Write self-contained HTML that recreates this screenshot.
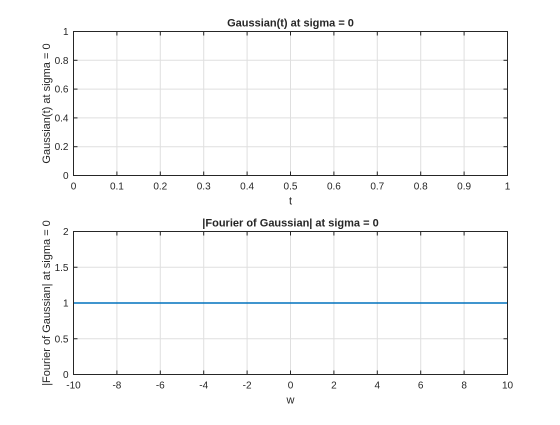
<!DOCTYPE html>
<html><head><meta charset="utf-8"><style>
html,body{margin:0;padding:0;background:#fff;}
svg text{font-family:"Liberation Sans",Arial,sans-serif;fill:#262626;}
</style></head><body>
<svg id="chart" width="560" height="420" xmlns="http://www.w3.org/2000/svg"></svg>
<script>
const topXTicks=[0,0.1,0.2,0.3,0.4,0.5,0.6,0.7,0.8,0.9,1];
const topXLabels=["0","0.1","0.2","0.3","0.4","0.5","0.6","0.7","0.8","0.9","1"];
const topYTicks=[0,0.2,0.4,0.6,0.8,1];
const topYLabels=["0","0.2","0.4","0.6","0.8","1"];
const topSeriesX=[];
const topSeriesY=[];
const botXTicks=[-10,-8,-6,-4,-2,0,2,4,6,8,10];
const botXLabels=["-10","-8","-6","-4","-2","0","2","4","6","8","10"];
const botYTicks=[0,0.5,1,1.5,2];
const botYLabels=["0","0.5","1","1.5","2"];
const botSeriesX=[-10,10];
const botSeriesY=[1,1];

const svg=document.getElementById('chart');
const NS='http://www.w3.org/2000/svg';
function mk(tag,attrs,parent){const e=document.createElementNS(NS,tag);for(const k in attrs)e.setAttribute(k,attrs[k]);(parent||svg).appendChild(e);return e;}

function drawAxes(cfg){
  const g=mk('g',{});
  
  
  const L=73.5,R=507.5,T=cfg.top,B=cfg.bottom;
  const sx=v=>L+(v-cfg.xmin)/(cfg.xmax-cfg.xmin)*(R-L);
  const sy=v=>B-(v-cfg.ymin)/(cfg.ymax-cfg.ymin)*(B-T);
  mk('rect',{x:L,y:T,width:R-L,height:B-T,fill:'#fff'},g);
  cfg.xt.forEach((v,i)=>{
    const x=sx(v);
    const gl=mk('line',{x1:x,x2:x,y1:T,y2:B,stroke:'#dfdfdf','stroke-width':1},g);
    
    
    mk('line',{x1:x,x2:x,y1:B,y2:B-4,stroke:'#262626'},g);
    mk('line',{x1:x,x2:x,y1:T,y2:T+4,stroke:'#262626'},g);
    const t=mk('text',{x:x,y:B+14,'font-size':10,'text-anchor':'middle'},g);
    t.textContent=cfg.xl[i];
    
    
  });
  cfg.yt.forEach((v,i)=>{
    const y=sy(v);
    const gl=mk('line',{x1:L,x2:R,y1:y,y2:y,stroke:'#dfdfdf','stroke-width':1},g);
    
    
    mk('line',{x1:L,x2:L+4,y1:y,y2:y,stroke:'#262626'},g);
    mk('line',{x1:R,x2:R-4,y1:y,y2:y,stroke:'#262626'},g);
    const t=mk('text',{x:L-5,y:y+3.5,'font-size':10,'text-anchor':'end'},g);
    t.textContent=cfg.yl[i];
    
    
  });
  if(cfg.sx.length>1){
    const pts=cfg.sx.map((v,i)=>sx(v)+','+sy(cfg.sy[i])).join(' ');
    const pl=mk('polyline',{points:pts,fill:'none',stroke:'#0072bd','stroke-width':1.5},g);
    
    
  }
  const box=mk('rect',{x:L,y:T,width:R-L,height:B-T,fill:'none',stroke:'#262626','stroke-width':1},g);
  
  
  const ti=mk('text',{x:(L+R)/2,y:T-5,'font-size':11,'font-weight':'bold','text-anchor':'middle'},g);
  ti.textContent=cfg.title;
  
  
  const xl=mk('text',{x:(L+R)/2,y:B+29,'font-size':11,'text-anchor':'middle'},g);
  xl.textContent=cfg.xlabel;
  
  
  const yx=50,yy=(T+B)/2;
  const yl=mk('text',{x:yx,y:yy,'font-size':11,'text-anchor':'middle',transform:'rotate(-90 '+yx+' '+yy+')'},g);
  yl.textContent=cfg.ylabel;
  
  
}
drawAxes({name:'gaussian-time-plot',top:31.5,bottom:175.5,xmin:0,xmax:1,ymin:0,ymax:1,xt:topXTicks,xl:topXLabels,yt:topYTicks,yl:topYLabels,sx:topSeriesX,sy:topSeriesY,title:'Gaussian(t) at sigma = 0',xlabel:'t',ylabel:'Gaussian(t) at sigma = 0'});
drawAxes({name:'fourier-plot',top:231.5,bottom:374.5,xmin:-10,xmax:10,ymin:0,ymax:2,xt:botXTicks,xl:botXLabels,yt:botYTicks,yl:botYLabels,sx:botSeriesX,sy:botSeriesY,title:'|Fourier of Gaussian| at sigma = 0',xlabel:'w',ylabel:'|Fourier of Gaussian| at sigma = 0'});
</script>
</body></html>
